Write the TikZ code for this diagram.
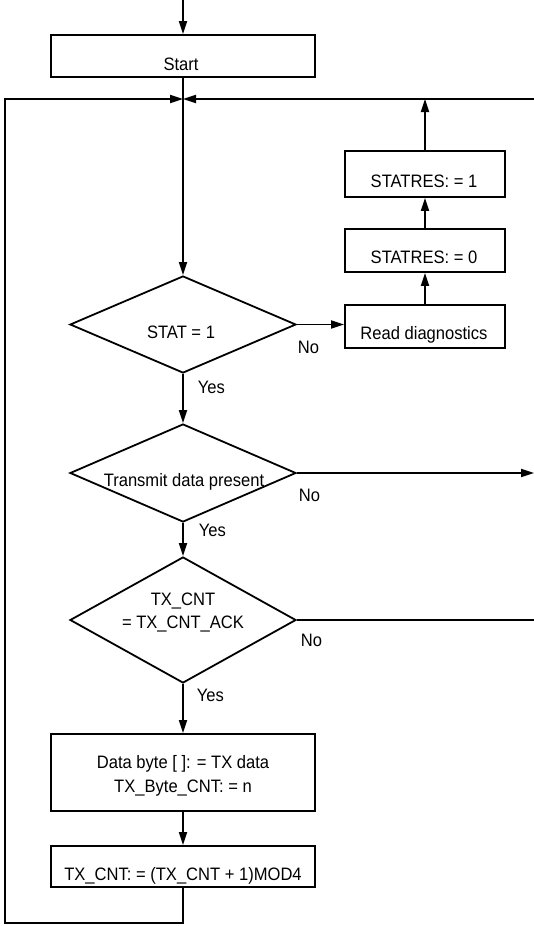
\documentclass[tikz,border=0pt]{standalone}
\usepackage{fontspec}
\setmainfont{Liberation Sans}[FakeStretch=0.92]
\usetikzlibrary{arrows.meta,shapes.geometric}
\begin{document}
\begin{tikzpicture}[x=1pt,y=-1pt,line width=1.8pt,
  box/.style={draw,rectangle,inner sep=0pt},
  dia/.style={draw,diamond,inner sep=0pt,minimum width=226pt},
  txt/.style={font=\fontsize{18}{22}\selectfont,anchor=base,inner sep=0pt},
  lbl/.style={font=\fontsize{18}{22}\selectfont,anchor=base west,inner sep=0pt},
  arr/.style={-{Triangle[length=13pt,width=8pt]}}]
\useasboundingbox (0,0) rectangle (534,926);
% boxes
\node[box,minimum width=264pt,minimum height=42pt] (start) at (183,56) {};
\node[txt] (startt) at (181,70.5) {Start};
\node[box,minimum width=160pt,minimum height=46pt] (st1) at (425,174) {};
\node[txt] (st1t) at (424,187) {STATRES: = 1};
\node[box,minimum width=160pt,minimum height=43pt] (st0) at (425,250.5) {};
\node[txt] (st0t) at (424,263) {STATRES: = 0};
\node[box,minimum width=160pt,minimum height=43pt] (rd) at (425,326.5) {};
\node[txt] (rdt) at (424,339) {Read diagnostics};
% diamonds
\node[dia,minimum height=97pt] (d1) at (183,324.5) {};
\node[txt] (d1t) at (181,338) {STAT = 1};
\node[dia,minimum height=98pt] (d2) at (183,473) {};
\node[txt] (d2t) at (184,486.5) {Transmit data present};
\node[dia,minimum height=126pt] (d3) at (183,620) {};
\node[txt] (d3a) at (183,605) {TX\_CNT};
\node[txt] (d3b) at (183,628.5) {= TX\_CNT\_ACK};
% lower boxes
\node[box,minimum width=264pt,minimum height=77pt] (data) at (183,772.5) {};
\node[txt] (dataa) at (183,768) {Data byte [ ]: = TX data};
\node[txt] (datab) at (183,792) {TX\_Byte\_CNT: = n};
\node[box,minimum width=264pt,minimum height=41pt] (tx) at (183,866.5) {};
\node[txt] (txt1) at (183,880) {TX\_CNT: = (TX\_CNT + 1)MOD4};
% labels
\node[lbl] (no1) at (297,353) {No};
\node[lbl] (yes1) at (197,393) {Yes};
\node[lbl] (no2) at (298,501.5) {No};
\node[lbl] (yes2) at (198,536.5) {Yes};
\node[lbl] (no3) at (300,646.5) {No};
\node[lbl] (yes3) at (196,701.5) {Yes};
% coordinates
\coordinate (top) at (183,0);
\coordinate (j) at (183,99);
\coordinate (rtop) at (534,99);
\coordinate (r2) at (534,473);
\coordinate (r3) at (534,620);
\coordinate (bl) at (5,923);
% connectors
\draw[arr] (top) -- (start.north);
\draw[arr] (start.south) -- (d1.north);
\draw[arr] (rtop) -- (j);
\draw[arr] (st1.north) -- (st1.north |- j);
\draw[arr] (st0.north) -- (st1.south);
\draw[arr] (rd.north) -- (st0.south);
\draw[arr] (d1.east) -- (d1.east -| rd.west);
\draw[arr] (d1.south) -- (d2.north);
\draw[arr] (d2.east) -- (r2);
\draw[arr] (d2.south) -- (d3.north);
\draw (d3.east) -- (r3);
\draw[arr] (d3.south) -- (data.north);
\draw[arr] (data.south) -- (tx.north);
\draw[arr] (tx.south) |- (bl) |- (j);
\end{tikzpicture}
\end{document}
